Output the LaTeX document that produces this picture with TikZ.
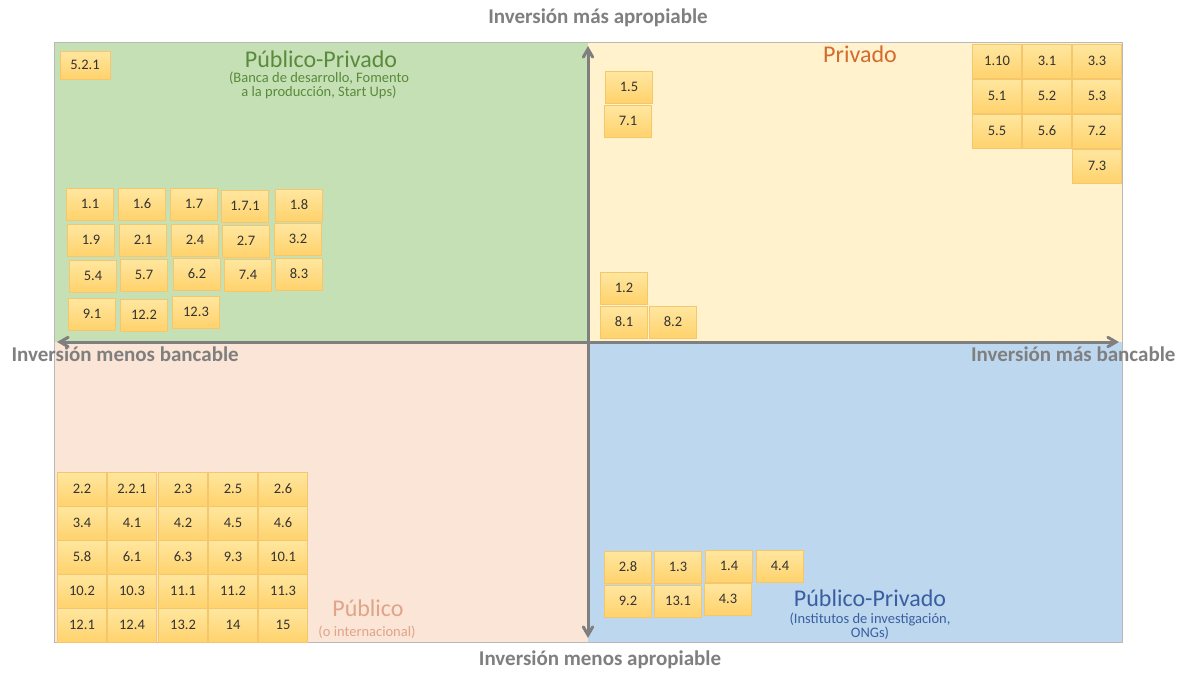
\documentclass[tikz,border=0pt]{standalone}
\usepackage{fontspec}
\setmainfont{Carlito}
\usepackage{tikz}
\usetikzlibrary{arrows,positioning}
\definecolor{verde}{HTML}{C5E0B4}
\definecolor{amarillo}{HTML}{FFF2CC}
\definecolor{rosado}{HTML}{FBE5D6}
\definecolor{azul}{HTML}{BDD7EE}
\definecolor{eje}{HTML}{A6A6A6}
\definecolor{rotulo}{HTML}{7F7F7F}
\definecolor{tverde}{HTML}{5A8A3C}
\definecolor{tnaranja}{HTML}{D46A2E}
\definecolor{trosado}{HTML}{E0A488}
\definecolor{tazul}{HTML}{3A5FA0}
\definecolor{cajaarriba}{HTML}{FFE7A0}
\definecolor{cajaabajo}{HTML}{FFD26C}
\definecolor{cajaborde}{HTML}{F5C66C}
\tikzstyle{caja}=[draw=cajaborde,top color=cajaarriba,bottom color=cajaabajo,inner sep=0pt,minimum width=47pt,minimum height=32pt,text=black!80,font=\fontsize{14.5}{15}\selectfont]
\tikzstyle{cajag}=[caja,minimum width=49pt,minimum height=34pt]
\tikzstyle{eje}=[rotulo,font=\bfseries\fontsize{21}{24}\selectfont]
\tikzstyle{titulo}=[font=\fontsize{24}{26}\selectfont]
\tikzstyle{sub}=[align=center,inner sep=1pt,font=\fontsize{14.5}{14}\selectfont]

\begin{document}
\begin{tikzpicture}[x=1pt,y=-1pt]
\useasboundingbox[fill=white] (0,0) rectangle (1186,675);
% cuadrantes
\fill[verde] (54,42) rectangle (588,342);
\fill[amarillo] (588,42) rectangle (1122,342);
\fill[rosado] (54,342) rectangle (588,642);
\fill[azul] (588,342) rectangle (1122,642);
\draw[eje!80,line width=0.8pt] (54,42) rectangle (1122,642);
% ejes
\coordinate (arriba) at (588,46);
\coordinate (abajo) at (588,638);
\coordinate (izq) at (57,342);
\coordinate (der) at (1119,342);
\draw[eje,line width=3pt,<->,>=angle 60] (abajo) -- (arriba);
\draw[eje,line width=3pt,<->,>=angle 60] (izq) -- (der);
\node[eje] (apropiable) at (598,18) {Inversión más apropiable};
\node[eje] (noapropiable) at (600,660) {Inversión menos apropiable};
\node[eje,anchor=west] (nobancable) at (8,354) {Inversión menos bancable};
\node[eje,anchor=east] (bancable) at (1179,354) {Inversión más bancable};
% titulos
\node[titulo,text=tverde] (pp1) at (321,59) {Público-Privado};
\node[sub,text=tverde] (pp1s) at (319,85) {(Banca de desarrollo, Fomento\\ a la producción, Start Ups)};
\node[titulo,text=tnaranja] (priv) at (860,54) {Privado};
\node[titulo,text=trosado] (pub) at (368,608) {Público};
\node[sub,text=trosado] (pubs) at (367,632) {(o internacional)};
\node[titulo,text=tazul] (pp2) at (870,598) {Público-Privado};
\node[sub,text=tazul] (pp2s) at (870,626) {(Institutos de investigación,\\ ONGs)};
% publico-privado (arriba)
\node[caja,minimum width=50pt,minimum height=28pt] (n5-2-1) at (85,65) {5.2.1};
\node[caja] (n1-1) at (90,204) {1.1};
\node[caja] (n1-6) at (142,204) {1.6};
\node[caja] (n1-7) at (194,204) {1.7};
\node[caja] (n1-7-1) at (245,206) {1.7.1};
\node[caja] (n1-8) at (299,205) {1.8};
\node[caja] (n1-9) at (91,240) {1.9};
\node[caja] (n2-1) at (143,240) {2.1};
\node[caja] (n2-4) at (195,240) {2.4};
\node[caja] (n2-7) at (246,241) {2.7};
\node[caja] (n3-2) at (298,239) {3.2};
\node[caja] (n5-4) at (93,276) {5.4};
\node[caja] (n5-7) at (144,275) {5.7};
\node[caja] (n6-2) at (197,274) {6.2};
\node[caja] (n7-4) at (248,275) {7.4};
\node[caja] (n8-3) at (299,274) {8.3};
\node[caja] (n9-1) at (92,314) {9.1};
\node[caja] (n12-2) at (144,315) {12.2};
\node[caja] (n12-3) at (196,312) {12.3};
% privado
\node[caja] (n1-5) at (629,87) {1.5};
\node[caja] (n7-1) at (628,121) {7.1};
\node[caja] (n1-2) at (624,288) {1.2};
\node[caja] (n8-1) at (624,322) {8.1};
\node[caja] (n8-2) at (673,322) {8.2};
\node[cajag] (n1-10) at (997,61) {1.10};
\node[cajag] (n3-1) at (1047,61) {3.1};
\node[cajag] (n3-3) at (1097,61) {3.3};
\node[cajag] (n5-1) at (997,96) {5.1};
\node[cajag] (n5-2) at (1047,96) {5.2};
\node[cajag] (n5-3) at (1097,96) {5.3};
\node[cajag] (n5-5) at (997,131) {5.5};
\node[cajag] (n5-6) at (1047,131) {5.6};
\node[cajag] (n7-2) at (1097,131) {7.2};
\node[cajag] (n7-3) at (1097,166) {7.3};
% publico
\node[cajag] (n2-2) at (82,489) {2.2};
\node[cajag] (n2-2-1) at (132,489) {2.2.1};
\node[cajag] (n2-3) at (183,489) {2.3};
\node[cajag] (n2-5) at (233,489) {2.5};
\node[cajag] (n2-6) at (283,489) {2.6};
\node[cajag] (n3-4) at (82,523) {3.4};
\node[cajag] (n4-1) at (132,523) {4.1};
\node[cajag] (n4-2) at (183,523) {4.2};
\node[cajag] (n4-5) at (233,523) {4.5};
\node[cajag] (n4-6) at (283,523) {4.6};
\node[cajag] (n5-8) at (82,557) {5.8};
\node[cajag] (n6-1) at (132,557) {6.1};
\node[cajag] (n6-3) at (183,557) {6.3};
\node[cajag] (n9-3) at (233,557) {9.3};
\node[cajag] (n10-1) at (283,557) {10.1};
\node[cajag] (n10-2) at (82,591) {10.2};
\node[cajag] (n10-3) at (132,591) {10.3};
\node[cajag] (n11-1) at (183,591) {11.1};
\node[cajag] (n11-2) at (233,591) {11.2};
\node[cajag] (n11-3) at (283,591) {11.3};
\node[cajag] (n12-1) at (82,625) {12.1};
\node[cajag] (n12-4) at (132,625) {12.4};
\node[cajag] (n13-2) at (183,625) {13.2};
\node[cajag] (n14) at (233,625) {14};
\node[cajag] (n15) at (283,625) {15};
% publico-privado (abajo)
\node[caja] (n2-8) at (628,567) {2.8};
\node[caja] (n1-3) at (678,567) {1.3};
\node[caja] (n1-4) at (729,566) {1.4};
\node[caja] (n4-4) at (780,566) {4.4};
\node[caja] (n9-2) at (628,601) {9.2};
\node[caja] (n13-1) at (678,601) {13.1};
\node[caja] (n4-3) at (728,599) {4.3};
\end{tikzpicture}
\end{document}
